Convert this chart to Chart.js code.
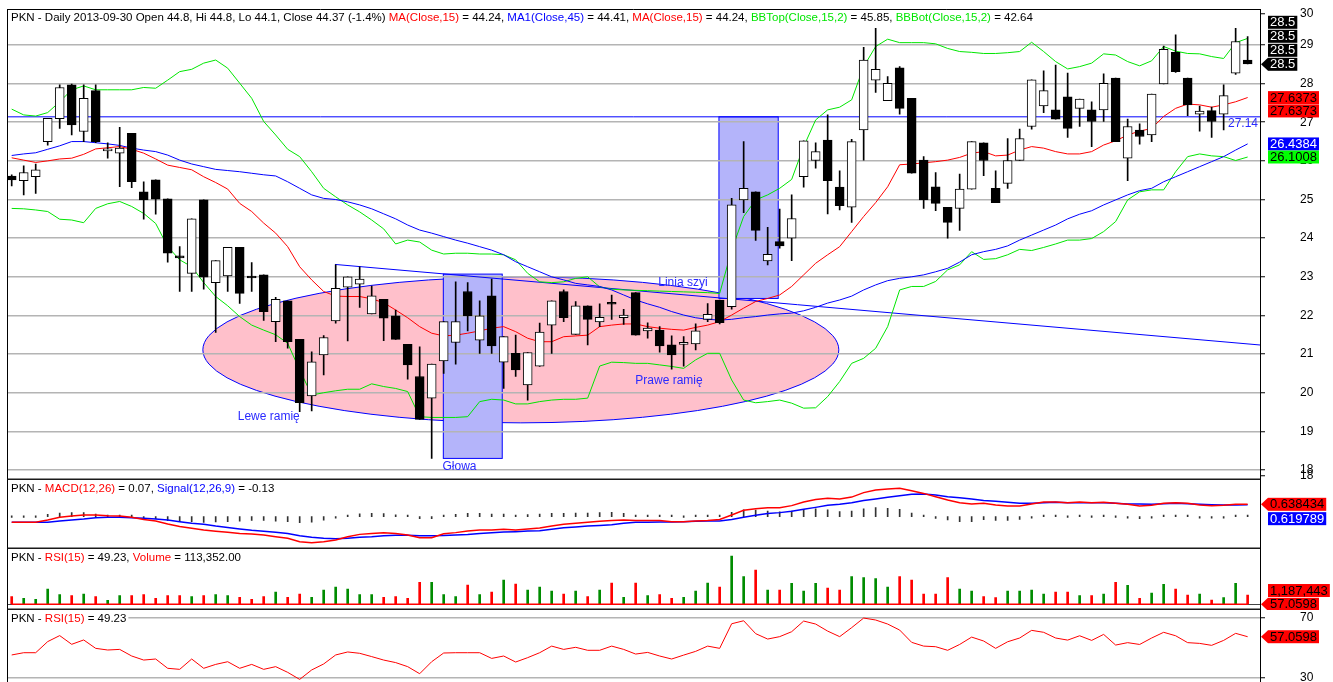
<!DOCTYPE html>
<html>
<head>
<meta charset="utf-8">
<title>PKN - Daily</title>
<script src="https://cdn.jsdelivr.net/npm/chart.js"></script>
<style>
  html, body { margin: 0; padding: 0; background: #fff; }
  #wrap { position: relative; width: 1333px; height: 682px; overflow: hidden; background: #fff; }
  #wrap canvas { position: absolute; left: 0; }
</style>
</head>
<body>
<div id="wrap">
  <canvas id="priceChart" width="1333" height="480" style="top:0"></canvas>
  <canvas id="macdChart" width="1333" height="69" style="top:480px"></canvas>
  <canvas id="volChart" width="1333" height="61" style="top:549px"></canvas>
  <canvas id="rsiChart" width="1333" height="72" style="top:610px"></canvas>
</div>
<script>
// ---- candles (one per trading day, left to right) ----
const opens = [25.61,25.49,25.59,26.50,27.09,27.97,26.76,27.82,26.26,26.20,
  26.71,25.20,25.51,25.02,23.52,23.09,24.99,22.85,23.02,23.76,
  23.00,23.05,21.84,22.38,21.38,19.92,20.98,21.86,22.73,22.81,
  22.04,22.42,21.99,21.25,20.42,19.86,20.82,21.30,22.62,21.36,
  22.51,20.79,21.02,20.20,20.69,21.75,22.62,21.51,22.25,21.83,
  22.30,21.94,22.59,21.60,21.62,21.24,21.25,21.26,21.90,22.40,
  22.23,24.99,25.20,23.41,23.91,24.00,25.59,26.01,26.54,25.32,
  24.80,26.80,28.09,27.56,28.41,27.62,26.02,25.33,24.80,24.77,
  25.27,26.47,25.29,25.42,26.01,26.89,27.42,27.32,27.66,27.36,
  27.32,27.32,28.14,26.07,26.80,26.67,27.99,28.81,28.14,27.21,
  27.30,27.21,28.27,28.61];
const highs = [25.64,25.87,25.92,27.10,27.97,27.99,27.97,27.97,26.47,26.87,
  26.71,25.46,25.51,25.02,23.78,24.50,24.99,23.42,23.76,23.76,
  23.37,23.05,22.47,22.38,21.38,21.06,21.48,23.31,23.00,23.26,
  22.76,22.42,22.14,21.25,21.19,20.74,21.84,22.87,22.85,22.38,
  22.94,21.45,21.49,21.04,21.80,22.38,22.66,22.36,22.25,22.30,
  22.53,22.16,22.59,21.81,21.71,21.47,21.45,21.78,22.31,22.40,
  25.03,26.50,25.20,24.28,24.75,25.12,26.52,26.47,27.19,25.74,
  26.56,28.94,29.43,28.18,28.44,27.62,26.11,25.70,24.80,25.66,
  26.50,26.47,25.74,26.58,26.82,28.10,28.33,28.48,28.27,27.60,
  27.53,28.25,28.14,27.08,26.96,27.73,28.97,29.26,28.14,27.42,
  27.39,27.97,29.43,29.22];
const lows = [25.35,25.12,25.16,26.41,26.84,26.67,26.50,26.47,26.07,25.33,
  25.31,24.49,24.62,23.38,22.62,22.62,22.68,21.56,22.62,22.31,
  22.62,21.87,21.32,21.15,19.51,19.53,20.46,21.80,21.34,22.21,
  22.04,21.35,21.38,20.35,19.31,18.30,20.50,20.74,21.60,21.02,
  21.02,20.11,20.42,19.81,20.68,21.02,21.84,21.51,21.24,21.71,
  21.90,21.77,21.49,21.41,21.05,20.61,20.69,21.11,21.84,21.78,
  22.16,24.66,23.94,23.31,23.74,23.42,25.32,25.81,24.63,24.73,
  24.41,26.02,27.77,27.56,27.21,25.68,24.77,24.71,24.00,24.20,
  25.27,25.62,24.92,25.29,26.01,26.82,27.25,27.08,26.61,26.89,
  26.37,27.02,26.50,25.49,26.43,26.50,27.99,28.29,27.17,26.77,
  26.61,26.80,28.24,28.51];
const closes = [25.51,25.70,25.77,27.10,27.90,26.93,27.62,26.50,26.27,26.33,
  25.46,24.99,25.01,23.61,23.49,24.50,22.99,23.42,23.76,22.57,
  22.97,22.10,22.42,21.32,19.74,20.80,21.43,22.70,23.00,22.94,
  22.51,21.93,21.38,20.72,19.31,20.74,21.84,21.84,21.99,21.99,
  21.21,21.45,20.59,21.04,21.57,22.38,21.94,22.25,21.90,21.95,
  22.29,22.01,21.49,21.67,21.21,20.98,21.27,21.60,22.03,21.81,
  24.86,25.29,24.20,23.58,23.80,24.51,26.52,26.24,25.49,24.84,
  26.50,28.61,28.37,28.01,27.36,25.68,24.99,24.90,24.41,25.27,
  26.50,26.01,24.92,26.01,26.58,28.10,27.82,27.08,26.84,27.60,
  27.02,28.01,26.50,26.89,26.63,27.73,28.89,28.31,27.45,27.29,
  27.02,27.69,29.09,28.51];
// volume, thousands of shares
const volumes = [983,766,639,1954,1239,1111,1315,983,511,1111,
  1111,1239,766,1111,1111,983,1111,1239,1111,894,
  639,983,1571,894,1315,894,1826,2209,1954,1239,
  1239,894,983,766,2809,2809,1239,983,2465,1239,
  1571,3103,2592,1826,2209,1698,1315,1698,983,1826,
  2720,894,2720,1111,1239,766,894,1698,2720,2209,
  6168,3537,4380,1826,1826,2682,1698,2682,2082,1826,
  3537,3410,3282,2209,3537,3103,1315,1315,3410,1954,
  1698,983,856,1698,1698,1826,1315,1571,1571,1111,
  1111,1315,2809,2426,766,1443,2554,1954,1188,1315,
  549,856,2682,1187];

// ---- indicators ----
const ma15 = [26.08,26.02,25.96,26.00,26.05,26.07,26.17,26.31,26.34,26.37,
  26.30,26.20,26.05,25.89,25.83,25.77,25.59,25.44,25.27,24.90,
  24.69,24.39,24.13,23.78,23.26,22.92,22.62,22.50,22.49,22.49,
  22.43,22.33,22.14,21.94,21.71,21.54,21.47,21.49,21.54,21.60,
  21.67,21.71,21.58,21.41,21.32,21.32,21.45,21.47,21.49,21.71,
  21.75,21.78,21.78,21.71,21.67,21.64,21.62,21.69,21.75,21.84,
  22.01,22.19,22.36,22.44,22.53,22.75,23.05,23.35,23.57,23.78,
  24.17,24.56,24.92,25.33,25.90,25.92,25.95,25.98,26.02,26.09,
  26.20,26.24,26.13,26.15,26.28,26.37,26.33,26.24,26.18,26.18,
  26.24,26.41,26.52,26.67,26.77,26.84,27.15,27.36,27.47,27.45,
  27.39,27.45,27.53,27.64];
const ma45 = [26.14,26.18,26.21,26.30,26.39,26.50,26.50,26.47,26.44,26.40,
  26.33,26.28,26.24,26.15,26.02,25.92,25.85,25.78,25.75,25.72,
  25.68,25.64,25.61,25.46,25.29,25.12,25.03,25.00,24.94,24.86,
  24.76,24.63,24.50,24.34,24.21,24.13,24.04,23.95,23.87,23.78,
  23.69,23.57,23.39,23.26,23.13,23.00,22.92,22.83,22.79,22.75,
  22.66,22.53,22.40,22.30,22.21,22.10,22.01,21.94,21.90,21.88,
  21.90,21.94,21.97,22.01,22.04,22.06,22.12,22.21,22.32,22.40,
  22.50,22.66,22.79,22.90,22.96,23.00,23.05,23.13,23.22,23.38,
  23.57,23.65,23.71,23.80,23.95,24.08,24.21,24.34,24.50,24.62,
  24.71,24.86,24.99,25.12,25.23,25.29,25.46,25.59,25.72,25.85,
  25.98,26.11,26.28,26.44];
const bbTop = [27.34,27.19,27.16,27.25,27.53,27.84,27.94,27.84,27.84,27.84,
  27.84,27.90,27.88,28.09,28.31,28.37,28.53,28.61,28.40,28.01,
  27.62,27.02,26.67,26.30,26.11,25.72,25.29,25.07,24.86,24.68,
  24.47,24.24,23.85,23.95,23.90,23.69,23.59,23.61,23.61,23.59,
  23.59,23.57,23.44,23.09,22.87,22.85,22.87,22.96,23.00,22.74,
  22.68,22.66,22.65,22.64,22.63,22.62,22.61,22.60,22.59,22.57,
  23.69,24.56,24.99,25.12,25.29,25.52,26.37,27.06,27.32,27.39,
  27.58,28.44,28.96,29.15,29.06,29.06,29.06,29.03,28.91,28.83,
  28.81,28.78,28.78,28.80,28.83,29.07,28.83,28.57,28.38,28.44,
  28.53,28.77,28.74,28.57,28.46,28.59,28.96,28.84,28.78,28.77,
  28.70,28.65,29.06,29.17];
const bbBot = [24.77,24.76,24.73,24.69,24.49,24.47,24.40,24.77,24.89,24.95,
  24.82,24.64,24.38,23.78,23.44,23.26,22.85,22.49,22.25,21.97,
  21.75,21.62,21.50,21.28,20.59,19.94,20.00,20.05,20.09,20.09,
  20.23,20.16,20.11,20.03,19.38,19.36,19.36,19.36,19.38,19.77,
  19.83,19.81,19.71,19.71,19.77,19.81,19.83,19.83,19.86,20.69,
  20.79,20.78,20.76,20.76,20.72,20.68,20.63,20.85,21.02,21.02,
  20.33,19.81,19.74,19.77,19.81,19.73,19.60,19.61,19.90,20.29,
  20.76,20.89,21.15,21.71,22.66,22.75,22.75,22.88,23.18,23.31,
  23.65,23.45,23.47,23.57,23.71,23.68,23.76,23.85,23.95,23.95,
  23.99,24.17,24.43,24.99,25.20,25.25,25.25,25.72,26.11,26.18,
  26.13,26.11,26.01,26.10];
const macd = [-0.29,-0.29,-0.29,-0.17,-0.03,0.04,0.09,0.09,0.05,0.04,
  -0.03,-0.14,-0.22,-0.38,-0.51,-0.60,-0.69,-0.75,-0.80,-0.86,
  -0.89,-0.94,-1.03,-1.11,-1.29,-1.34,-1.29,-1.20,-1.03,-0.91,
  -0.86,-0.82,-0.86,-0.94,-1.08,-1.08,-0.88,-0.82,-0.74,-0.69,
  -0.69,-0.65,-0.69,-0.63,-0.58,-0.48,-0.39,-0.34,-0.29,-0.24,
  -0.19,-0.17,-0.20,-0.20,-0.20,-0.26,-0.26,-0.22,-0.19,-0.14,
  0.09,0.33,0.41,0.46,0.46,0.57,0.76,0.89,0.95,0.91,
  1.01,1.24,1.38,1.43,1.46,1.34,1.20,1.03,0.86,0.72,
  0.65,0.69,0.60,0.55,0.55,0.65,0.76,0.76,0.72,0.76,
  0.72,0.74,0.69,0.64,0.55,0.59,0.69,0.72,0.69,0.60,
  0.57,0.59,0.64,0.638];
const signal = [-0.29,-0.29,-0.29,-0.29,-0.22,-0.17,-0.12,-0.05,-0.03,-0.03,
  -0.05,-0.08,-0.12,-0.17,-0.26,-0.34,-0.39,-0.48,-0.55,-0.63,
  -0.70,-0.75,-0.80,-0.86,-0.98,-1.06,-1.11,-1.13,-1.11,-1.06,
  -1.03,-0.98,-0.96,-0.96,-0.98,-0.98,-0.97,-0.94,-0.91,-0.86,
  -0.82,-0.79,-0.77,-0.74,-0.72,-0.65,-0.57,-0.53,-0.48,-0.45,
  -0.41,-0.34,-0.29,-0.29,-0.27,-0.27,-0.26,-0.24,-0.22,-0.22,
  -0.14,-0.03,0.07,0.17,0.21,0.28,0.38,0.48,0.59,0.64,
  0.72,0.83,0.91,1.00,1.08,1.15,1.17,1.12,1.03,0.98,
  0.91,0.84,0.79,0.74,0.69,0.69,0.72,0.74,0.72,0.72,
  0.72,0.72,0.69,0.65,0.65,0.64,0.67,0.69,0.67,0.64,
  0.62,0.60,0.60,0.620];
const macdHist = [0,0,0,0.12,0.19,0.21,0.21,0.14,0.08,0.07,
  0.02,-0.06,-0.10,-0.21,-0.25,-0.26,-0.30,-0.27,-0.25,-0.23,
  -0.19,-0.19,-0.23,-0.25,-0.31,-0.28,-0.18,-0.07,0.08,0.15,
  0.17,0.16,0.10,0.02,-0.10,-0.10,0.09,0.12,0.17,0.17,
  0.13,0.14,0.08,0.11,0.14,0.17,0.18,0.19,0.19,0.21,
  0.22,0.17,0.09,0.09,0.07,0.01,0,0.02,0.03,0.08,
  0.23,0.36,0.34,0.29,0.25,0.29,0.38,0.41,0.36,0.27,
  0.29,0.41,0.47,0.43,0.38,0.19,0.03,-0.09,-0.17,-0.26,
  -0.26,-0.15,-0.19,-0.19,-0.14,-0.04,0.04,0.02,0,0.04,
  0,0.02,0,-0.01,-0.10,-0.05,0.02,0.03,0.02,-0.04,
  -0.05,-0.01,0.04,0.02];
const rsi = [44.9,46.4,46.4,53.8,57.8,52.0,54.9,49.3,48.2,48.6,
  44.2,41.5,42.2,36.0,35.3,42.2,36.0,38.6,40.4,36.0,
  38.6,35.3,37.1,33.3,28.6,34.9,38.9,44.9,46.9,46.0,
  43.8,41.5,39.8,37.1,32.4,40.4,46.2,46.4,46.4,46.4,
  42.6,44.2,40.2,43.1,46.4,50.8,48.6,50.0,48.0,48.0,
  50.8,48.6,45.5,46.6,44.2,42.2,44.8,47.3,50.8,49.3,
  65.7,67.7,59.1,55.5,57.1,60.4,67.5,65.5,60.8,57.1,
  63.1,69.5,68.2,65.5,61.5,53.3,50.8,50.4,48.0,51.9,
  56.8,54.2,49.3,53.7,56.2,61.3,60.0,56.2,54.8,57.7,
  54.6,58.6,51.5,53.1,51.9,56.2,60.0,57.7,53.1,52.6,
  51.3,54.6,59.3,57.06];

// ---- axes ----
const priceTicks = [18, 19, 20, 21, 22, 23, 24, 25, 26, 27, 28, 29];
const priceEdgeTicks = [{value: 17.85, label: '18'}, {value: 29.8, label: '30'}];
const rsiTicks = [30, 70];

// ---- drawn pattern (data coordinates: x = day index, y = price) ----
const resistance = 27.14;
const neckline = [{x: 26.94, y: 23.32}, {x: 104.03, y: 21.235}];
const patternEllipse = {x: 42.43, y: 21.11, rx: 26.5, ry: 1.89};
const patternBoxes = [
  {x0: 35.97, x1: 40.88, y0: 18.30, y1: 23.07},
  {x0: 58.94, x1: 63.88, y0: 22.44, y1: 27.14}
];
const patternNotes = [
  {text: 'Lewe ramię', x: 21.42, y: 19.38},
  {text: 'Głowa', x: 37.32, y: 18.08},
  {text: 'Prawe ramię', x: 54.78, y: 20.30},
  {text: 'Linia szyi', x: 55.94, y: 22.84}
];

const FONT = "'Liberation Sans', Arial, Helvetica, sans-serif";
const RED = '#ff0000', BLUE = '#0000ff', GREEN = '#00e600', NOTE = '#2a2aff';
const X_MIN = -0.35, X_MAX = 104.03;

Chart.defaults.font.family = FONT;
Chart.defaults.color = '#000';

const pts = arr => arr.map((y, x) => ({x, y}));
const isUp = i => closes[i] >= opens[i];
const line = (arr, color, order, width) => ({
  type: 'line', order, data: pts(arr), borderColor: color, borderWidth: width || 1,
  pointRadius: 0, fill: false, tension: 0
});

// titles
const priceTitle = [
  ['PKN - Daily 2013-09-30 Open 44.8, Hi 44.8, Lo 44.1, Close 44.37 (-1.4%) ', '#000'],
  ['MA(Close,15)', RED], [' = 44.24, ', '#000'],
  ['MA1(Close,45)', BLUE], [' = 44.41, ', '#000'],
  ['MA(Close,15)', RED], [' = 44.24, ', '#000'],
  ['BBTop(Close,15,2)', GREEN], [' = 45.85, ', '#000'],
  ['BBBot(Close,15,2)', GREEN], [' = 42.64', '#000']
];
const macdTitle = [['PKN - ', '#000'], ['MACD(12,26)', RED], [' = 0.07, ', '#000'], ['Signal(12,26,9)', BLUE], [' = -0.13', '#000']];
const volTitle = [['PKN - ', '#000'], ['RSI(15)', RED], [' = 49.23, ', '#000'], ['Volume', RED], [' = 113,352.00', '#000']];
const rsiTitle = [['PKN - ', '#000'], ['RSI(15)', RED], [' = 49.23', '#000']];

// last-value boxes on the right
const priceBoxes = [
  {value: 28.5, text: '28.5', bg: '#000', fg: '#fff', shift: -3},
  {value: 28.5, text: '28.5', bg: '#000', fg: '#fff', shift: -2},
  {value: 28.5, text: '28.5', bg: '#000', fg: '#fff', shift: -1},
  {value: 28.5, text: '28.5', bg: '#000', fg: '#fff', shift: 0, arrow: true},
  {value: 27.6373, text: '27.6373', bg: RED, fg: '#000', shift: 0},
  {value: 27.6373, text: '27.6373', bg: RED, fg: '#000', shift: 0.95},
  {value: 26.4384, text: '26.4384', bg: BLUE, fg: '#fff', shift: 0},
  {value: 26.1008, text: '26.1008', bg: '#00ff00', fg: '#000', shift: 0}
];
const macdBoxes = [
  {value: 0.638434, text: '0.638434', bg: RED, fg: '#000', shift: 0, arrow: true},
  {value: 0.619789, text: '0.619789', bg: BLUE, fg: '#fff', shift: 1}
];
const volBoxes = [
  {value: 1187.443, text: '1,187,443', bg: RED, fg: '#000', shift: -0.32},
  {value: 0, text: '57.0598', bg: RED, fg: '#000', shift: 0, arrow: true}
];
const rsiBoxes = [{value: 57.0598, text: '57.0598', bg: RED, fg: '#000', shift: 0, arrow: true}];

function drawTitle(chart, parts, withBg) {
  const {ctx, chartArea: a} = chart;
  ctx.save();
  ctx.font = '11.5px ' + FONT;
  ctx.textBaseline = 'middle';
  const y = a.top + 8.5;
  let x = a.left + 3.5;
  if (withBg) {
    const w = parts.reduce((s, p) => s + ctx.measureText(p[0]).width, 0);
    ctx.fillStyle = '#fff';
    ctx.fillRect(a.left + 0.5, a.top + 1, w + 5, 15);
  }
  parts.forEach(([t, c]) => {
    ctx.fillStyle = c;
    ctx.fillText(t, x, y);
    x += ctx.measureText(t).width;
  });
  ctx.restore();
}

function drawFrame(chart, top, bottom) {
  const {ctx, chartArea: a} = chart;
  const xl = Math.floor(a.left) + 0.5;
  ctx.save();
  ctx.strokeStyle = '#000';
  ctx.lineWidth = 1;
  ctx.beginPath();
  ctx.moveTo(xl, a.top);
  ctx.lineTo(xl, a.bottom);
  if (top) {
    ctx.moveTo(xl, a.top + 0.5);
    ctx.lineTo(a.right, a.top + 0.5);
  }
  ctx.stroke();
  if (bottom) {
    ctx.strokeStyle = '#1a1a1a';
    ctx.lineWidth = 1.5;
    ctx.beginPath();
    ctx.moveTo(xl, a.bottom - 0.75);
    ctx.lineTo(a.right, a.bottom - 0.75);
    ctx.stroke();
  }
  ctx.restore();
}

function drawValueBoxes(chart, boxes) {
  const {ctx, chartArea: a} = chart;
  const ys = chart.scales.y;
  ctx.save();
  ctx.font = '13px ' + FONT;
  ctx.textBaseline = 'middle';
  boxes.forEach(b => {
    const cy = ys.getPixelForValue(b.value) + b.shift * 14;
    const left = a.right + 8;
    const w = ctx.measureText(b.text).width + 4;
    ctx.fillStyle = b.bg;
    ctx.fillRect(left, cy - 6.5, w, 13);
    if (b.arrow) {
      ctx.beginPath();
      ctx.moveTo(a.right + 1, cy);
      ctx.lineTo(left, cy - 6.5);
      ctx.lineTo(left, cy + 6.5);
      ctx.closePath();
      ctx.fill();
    }
    ctx.fillStyle = b.fg;
    ctx.fillText(b.text, left + 2, cy + 0.5);
  });
  ctx.restore();
}

function baseOptions(y, padTop) {
  return {
    responsive: false,
    animation: false,
    events: [],
    layout: {padding: {left: 7.5, right: 0, top: padTop || 0, bottom: 0}},
    plugins: {legend: {display: false}, tooltip: {enabled: false}},
    scales: {
      x: {type: 'linear', min: X_MIN, max: X_MAX, display: false, offset: false},
      y: Object.assign({
        position: 'right',
        afterFit: s => { s.width = 73; s.paddingTop = 0; s.paddingBottom = 0; },
        border: {display: true, color: '#000', width: 1},
        grid: {display: false},
        ticks: {display: false}
      }, y)
    }
  };
}

// ---- price panel ----
new Chart(document.getElementById('priceChart'), {
  type: 'bar',
  data: {
    datasets: [
      {
        type: 'bar', order: 0, grouped: false,
        data: opens.map((o, i) => ({x: i, y: [o, closes[i]]})),
        backgroundColor: c => isUp(c.dataIndex) ? '#fff' : '#000',
        borderColor: '#000', borderWidth: 1, borderSkipped: false,
        barThickness: 9, minBarLength: 2
      },
      {
        type: 'bar', order: 1, grouped: false,
        data: lows.map((l, i) => ({x: i, y: [l, highs[i]]})),
        backgroundColor: '#000', borderWidth: 0, barThickness: 1
      },
      line(ma15, RED, 2),
      line(ma45, BLUE, 3),
      line(bbTop, GREEN, 4),
      line(bbBot, GREEN, 5),
      {type: 'line', order: 6, data: neckline, borderColor: BLUE, borderWidth: 1, pointRadius: 0, fill: false},
      {type: 'line', order: 7, data: [{x: X_MIN, y: resistance}, {x: X_MAX, y: resistance}],
        borderColor: BLUE, borderWidth: 1, pointRadius: 0, fill: false}
    ]
  },
  options: baseOptions({
    min: 17.741, max: 29.931,
    afterBuildTicks: s => {
      s.ticks = priceTicks.map(value => ({value})).concat(priceEdgeTicks.map(t => ({value: t.value})));
    },
    grid: {
      display: true, drawTicks: true, tickLength: 5, lineWidth: 1.5, tickWidth: 1, tickColor: '#000',
      color: c => (c.tick && priceEdgeTicks.some(t => t.value === c.tick.value)) ? 'rgba(0,0,0,0)' : '#b4b4b4'
    },
    ticks: {
      display: true, autoSkip: false, padding: 35, color: '#000', font: {size: 12},
      callback: v => { const e = priceEdgeTicks.find(t => t.value === v); return e ? e.label : String(v); }
    }
  }, 9),
  plugins: [{
    id: 'pattern',
    beforeDraw(chart) {
      const {ctx, chartArea: a, scales: {x, y}} = chart;
      ctx.save();
      ctx.beginPath();
      ctx.rect(a.left, a.top, a.right - a.left, a.bottom - a.top);
      ctx.clip();
      const e = patternEllipse;
      const cx = x.getPixelForValue(e.x), cy = y.getPixelForValue(e.y);
      const rx = x.getPixelForValue(e.x + e.rx) - cx;
      const ry = cy - y.getPixelForValue(e.y + e.ry);
      ctx.beginPath();
      ctx.ellipse(cx, cy, rx, ry, 0, 0, Math.PI * 2);
      ctx.fillStyle = '#ffc0cb';
      ctx.fill();
      ctx.strokeStyle = BLUE;
      ctx.lineWidth = 1;
      ctx.stroke();
      patternBoxes.forEach(b => {
        const x0 = x.getPixelForValue(b.x0), x1 = x.getPixelForValue(b.x1);
        const y0 = y.getPixelForValue(b.y1), y1 = y.getPixelForValue(b.y0);
        ctx.fillStyle = 'rgb(180,180,250)';
        ctx.fillRect(x0, y0, x1 - x0, y1 - y0);
        ctx.strokeStyle = BLUE;
        ctx.strokeRect(x0, y0, x1 - x0, y1 - y0);
      });
      ctx.restore();
    },
    afterDatasetsDraw(chart) {
      const {ctx, chartArea: a, scales: {x, y}} = chart;
      ctx.save();
      ctx.font = '12px ' + FONT;
      ctx.fillStyle = NOTE;
      ctx.textAlign = 'center';
      ctx.textBaseline = 'middle';
      patternNotes.forEach(n => ctx.fillText(n.text, x.getPixelForValue(n.x), y.getPixelForValue(n.y)));
      ctx.textAlign = 'right';
      ctx.fillText(String(resistance), a.right - 2, y.getPixelForValue(resistance) + 7);
      ctx.restore();
    },
    afterDraw(chart) {
      drawTitle(chart, priceTitle, false);
      drawFrame(chart, true, true);
      drawValueBoxes(chart, priceBoxes);
    }
  }]
});

// ---- MACD panel ----
new Chart(document.getElementById('macdChart'), {
  type: 'bar',
  data: {
    datasets: [
      line(macd, RED, 0, 1.5),
      line(signal, BLUE, 1, 1.5),
      {type: 'bar', order: 2, data: pts(macdHist), backgroundColor: '#333', barThickness: 1, minBarLength: 1.5}
    ]
  },
  options: baseOptions({min: -1.663, max: 1.890}),
  plugins: [{
    id: 'macdDeco',
    afterDraw(chart) {
      drawTitle(chart, macdTitle, false);
      drawFrame(chart, false, true);
      drawValueBoxes(chart, macdBoxes);
    }
  }]
});

// ---- volume panel ----
new Chart(document.getElementById('volChart'), {
  type: 'bar',
  data: {
    datasets: [
      {type: 'line', order: 0, data: [{x: 0, y: 0}, {x: volumes.length - 1, y: 0}],
        borderColor: RED, borderWidth: 1.5, pointRadius: 0, fill: false},
      {type: 'bar', order: 1, data: pts(volumes),
        backgroundColor: c => isUp(c.dataIndex) ? '#008c00' : RED, barThickness: 2}
    ]
  },
  options: baseOptions({
    min: -728, max: 7062,
    afterBuildTicks: s => { s.ticks = [{value: 0}]; },
    grid: {display: true, drawTicks: false, color: '#444', lineWidth: 1}
  }),
  plugins: [{
    id: 'volDeco',
    afterDraw(chart) {
      drawTitle(chart, volTitle, false);
      drawFrame(chart, false, true);
      drawValueBoxes(chart, volBoxes);
    }
  }]
});

// ---- RSI panel ----
new Chart(document.getElementById('rsiChart'), {
  type: 'line',
  data: {datasets: [line(rsi, RED, 0, 1)]},
  options: baseOptions({
    min: 26.87, max: 74.87,
    afterBuildTicks: s => { s.ticks = rsiTicks.map(value => ({value})); },
    grid: {display: true, drawTicks: true, tickLength: 5, lineWidth: 1.5, tickWidth: 1, tickColor: '#000', color: '#b4b4b4'},
    ticks: {display: true, autoSkip: false, padding: 35, color: '#000', font: {size: 12}}
  }),
  plugins: [{
    id: 'rsiDeco',
    afterDraw(chart) {
      drawTitle(chart, rsiTitle, true);
      drawFrame(chart, false, false);
      drawValueBoxes(chart, rsiBoxes);
    }
  }]
});
</script>
</body>
</html>
